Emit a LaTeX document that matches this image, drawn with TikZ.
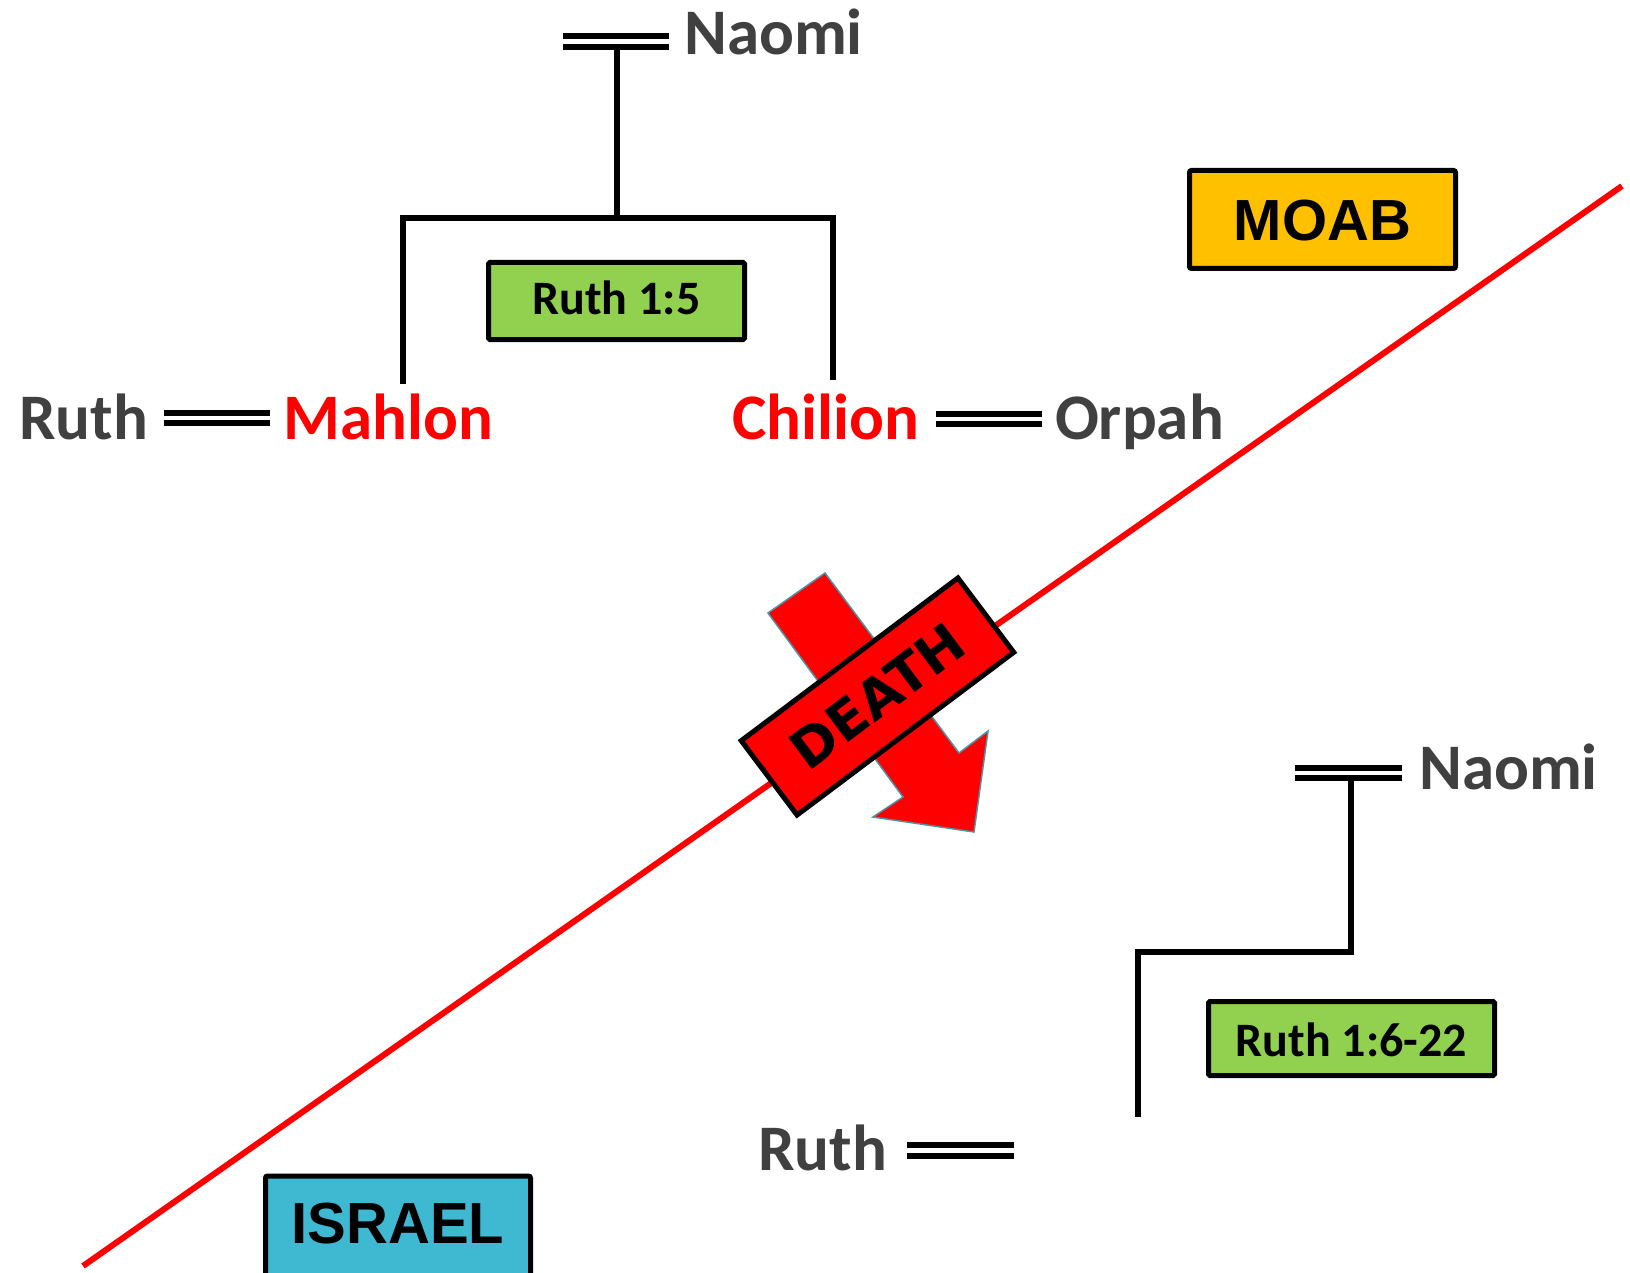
\documentclass[tikz,border=0pt]{standalone}
\usepackage{fontspec}
\setmainfont{Carlito}
\newfontfamily\capfont{Liberation Sans}
\newfontfamily\deathfont{DejaVu Sans}
\definecolor{namegray}{HTML}{404040}
\definecolor{moabfill}{HTML}{FFC000}
\definecolor{israelfill}{HTML}{3FB8D2}
\definecolor{versefill}{HTML}{92D050}
\definecolor{arrowedge}{HTML}{4A94A8}
\begin{document}
\begin{tikzpicture}[x=1pt,y=-1pt,
  person/.style={font=\bfseries\fontsize{65}{78}\selectfont, text=namegray, inner sep=0pt, anchor=base},
  dead/.style={person, text=red},
  marriage/.style={draw=black, line width=6pt, double=white, double distance=4.5pt},
  tree/.style={draw=black, line width=5.5pt, line join=miter},
  region/.style={draw=black, line width=5pt, rounded corners=2pt, inner sep=0pt, text=black,
    font=\capfont\bfseries\fontsize{58}{70}\selectfont},
  versebox/.style={draw=black, line width=5pt, rounded corners=1.5pt, fill=versefill, inner sep=0pt, text=black,
    font=\bfseries\fontsize{48}{58}\selectfont}
]
\useasboundingbox (0,0) rectangle (1630,1273);
\fill[white] (0,0) rectangle (1630,1273);

% dividing line
\coordinate (lineA) at (83,1266);
\coordinate (lineB) at (1622,186);
\draw[red, line width=6pt] (lineA) -- (lineB);

% region labels
\node[region, fill=moabfill, minimum width=266pt, minimum height=98pt, text height=43pt, text depth=0pt] (moab) at (1322.5,219.5) {MOAB};
\node[region, fill=israelfill, minimum width=265pt, minimum height=116pt, text height=40pt, text depth=22pt] (israel) at (398,1234) {ISRAEL};

% top family
\node[person] (naomi1) at (773.5,55) {Naomi};
\node[person] (ruth1) at (83.5,439) {Ruth};
\node[dead] (mahlon) at (388.5,439) {Mahlon};
\node[dead] (chilion) at (826,439) {Chilion};
\node[person] (orpah) at (1139.5,439) {Orpah};

\coordinate (n1L) at (563,41.5);
\draw[marriage, shorten >=15pt] (n1L) -- (n1L -| naomi1.west);
\coordinate (rm) at (0,418);
\draw[marriage, shorten <=16pt, shorten >=13.5pt] (ruth1.east |- rm) -- (mahlon.west |- rm);
\coordinate (co) at (0,419);
\draw[marriage, shorten <=16.5pt, shorten >=13pt] (chilion.east |- co) -- (orpah.west |- co);

\coordinate (n1stem) at (617,49);
\coordinate (n1bar) at (617,218);
\coordinate (mahlonTop) at (403,384);
\coordinate (chilionTop) at (833,380);
\draw[tree] (n1stem) -- (n1bar);
\draw[tree] (mahlonTop) |- (n1bar) -| (chilionTop);

\node[versebox, minimum width=256pt, minimum height=77pt, text height=30pt, text depth=2pt] (v15) at (616.5,301) {Ruth 1:5};

% bottom family
\node[person] (naomi2) at (1508.5,789) {Naomi};
\node[person] (ruth3) at (822.5,1170) {Ruth};
\coordinate (n2L) at (1295,773);
\draw[marriage, shorten >=17pt] (n2L) -- (n2L -| naomi2.west);
\coordinate (r3R) at (1014,1150.5);
\draw[marriage, shorten <=20pt] (ruth3.east |- r3R) -- (r3R);

\coordinate (n2stem) at (1351,781);
\coordinate (n2bar) at (1351,952);
\coordinate (ruth3top) at (1138,1117);
\draw[tree] (n2stem) -- (n2bar) -| (ruth3top);

\node[versebox, minimum width=286pt, minimum height=74pt, text height=35pt, text depth=0pt] (v622) at (1351.5,1038.5) {Ruth 1:6-22};

% death arrow and banner
\draw[fill=red, draw=arrowedge, line width=1.5pt, line join=miter]
  (825,573) -- (768,613) -- (903,797) -- (873,817) -- (974,832) -- (988,731) -- (959,753) -- cycle;
\node[region, fill=red, rounded corners=0pt, rotate=36.9, minimum width=271pt, minimum height=93pt,
  font=\deathfont\bfseries\fontsize{54}{64}\selectfont,
  text height=39pt, text depth=0pt] (death) at (877.5,696.5) {DEATH};
\end{tikzpicture}
\end{document}
